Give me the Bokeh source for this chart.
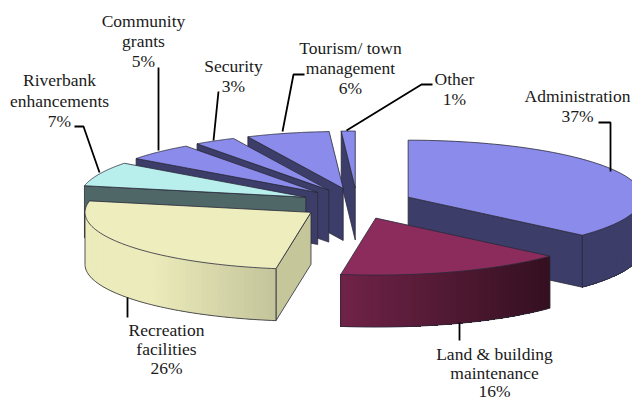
import numpy as np
from bokeh.plotting import figure
from bokeh.models import Range1d
from bokeh.core.properties import value
from bokeh.embed import file_html
from bokeh.resources import INLINE

categories = ["Administration", "Land & building maintenance", "Recreation facilities",
              "Riverbank enhancements", "Community grants", "Security",
              "Tourism/ town management", "Other"]
shares = [37, 16, 26, 7, 5, 3, 6, 1]

top_colors = ["#8B8BEB", "#8B2C5C", "#EDEDBD", "#B8EEEC", "#8B8BEB", "#8B8BEB", "#8B8BEB", "#8B8BEB"]
wall_colors = ["#3D3D69", "#702348", "#C5C69A", "#4F6766", "#3D3D69", "#3D3D69", "#3D3D69", "#3D3D69"]
arc_left = ["#3D3D69", "#702348", "#EBEBBB", "#4F6766", "#3D3D69", "#3D3D69", "#3D3D69", "#3D3D69"]
arc_right = ["#3D3D69", "#341020", "#C3C49A", "#4F6766", "#3D3D69", "#3D3D69", "#3D3D69", "#3D3D69"]

# layout of the tilted pie, in page pixels
CX, CY, RX_RIGHT, RX_LEFT, RY, DEPTH, EXPLODE_X, EXPLODE_Y = 356.5, 203.0, 234.0, 226.0, 57.0, 52.0, 56.0, 15.5
EDGE = "#2A2A3A"
draw_order = [7, 6, 5, 4, 3, 0, 1, 2]

label_lines = [
    (["Administration", "37%"], 577, [95, 115]),
    (["Land & building", "maintenance", "16%"], 494, [353, 372, 390]),
    (["Recreation", "facilities", "26%"], 166, [329, 348, 367]),
    (["Riverbank", "enhancements", "7%"], 59, [79, 100, 120]),
    (["Community", "grants", "5%"], 143, [20, 40, 60]),
    (["Security", "3%"], 233, [65, 85]),
    (["Tourism/ town", "management", "6%"], 350, [47, 67, 87]),
    (["Other", "1%"], 454, [78, 98]),
]
leaders = [
    ([598, 610, 610], [122, 122, 171]),
    ([459, 459], [322, 340]),
    ([127, 127], [297, 317]),
    ([74, 83, 99], [126, 126, 172]),
    ([158, 158], [67, 150]),
    ([218, 213], [91, 140]),
    ([304, 293, 282], [74, 74, 131]),
    ([432, 421, 346], [84, 84, 130]),
]

p = figure(width=632, height=400, x_range=Range1d(0, 632), y_range=Range1d(400, 0),
           output_backend="svg", toolbar_location=None, min_border=0)
p.axis.visible = False
p.grid.visible = False
p.outline_line_color = None
p.background_fill_color = "white"


def hex2rgb(h):
    return np.array([int(h[i:i + 2], 16) for i in (1, 3, 5)], dtype=float)


def mix(a, b, t):
    c = hex2rgb(a) * (1 - t) + hex2rgb(b) * t
    return "#%02x%02x%02x" % tuple(int(round(v)) for v in c)


def rim_x(ox, th):
    s = np.sin(th)
    return ox + np.where(s > 0, RX_RIGHT, RX_LEFT) * s


edges = np.cumsum([0] + shares) / sum(shares) * 2 * np.pi
for i in draw_order:
    a0, a1 = edges[i], edges[i + 1]
    mid = (a0 + a1) / 2
    ox = CX + EXPLODE_X * np.sin(mid)
    oy = CY - EXPLODE_Y * np.cos(mid)
    th = np.linspace(a0, a1, 80)
    rx = rim_x(ox, th)
    ry = oy - RY * np.cos(th)

    # radial walls that face the viewer
    for ang, vis in ((a0, np.sin(a0) < -1e-6), (a1, np.sin(a1) > 1e-6)):
        if vis:
            ex, ey = float(rim_x(ox, ang)), oy - RY * np.cos(ang)
            p.patch([ox, ex, ex, ox], [oy, ey, ey + DEPTH, oy + DEPTH],
                    fill_color=wall_colors[i], line_color=EDGE, line_width=0.8)

    # outer rim wall, only where it faces the viewer
    mask = (th > np.pi / 2) & (th < 3 * np.pi / 2)
    if mask.sum() > 1:
        ax, ay = rx[mask], ry[mask]
        span = max(ax.max() - ax.min(), 1)
        n = len(ax)
        # each strip runs on to the end of the rim, so no seam can show
        for k in range(n - 1):
            t = (ax[k] + ax[k + 1]) / 2
            t = (t - ax.min()) / span
            if arc_left[i] == "#EBEBBB":
                t = max(0.0, (t - 0.35) / 0.65)
            col = mix(arc_left[i], arc_right[i], t)
            sx = ax[k:]
            sy = ay[k:]
            p.patch(np.r_[sx, sx[::-1]], np.r_[sy, sy[::-1] + DEPTH],
                    fill_color=col, line_color=None)
        p.line(ax, ay + DEPTH, line_color=EDGE, line_width=0.8)
        for j in (0, -1):
            p.line([ax[j], ax[j]], [ay[j], ay[j] + DEPTH], line_color=EDGE, line_width=0.8)

    # top face
    p.patch(np.r_[ox, rx], np.r_[oy, ry], fill_color=top_colors[i],
            line_color=EDGE, line_width=0.8)

for xs, ys in leaders:
    p.line(xs, ys, line_color="black", line_width=1.8)

xs, ys, ts = [], [], []
for lines, x, yy in label_lines:
    for t, y in zip(lines, yy):
        xs.append(x); ys.append(y); ts.append(t)
p.text(xs, ys, text=ts, text_font=value("Liberation Serif"), text_font_size="17.5px",
       text_color="#1a1a1a", text_align="center", text_baseline="middle")

open("out.html", "w").write(file_html(p, INLINE))
